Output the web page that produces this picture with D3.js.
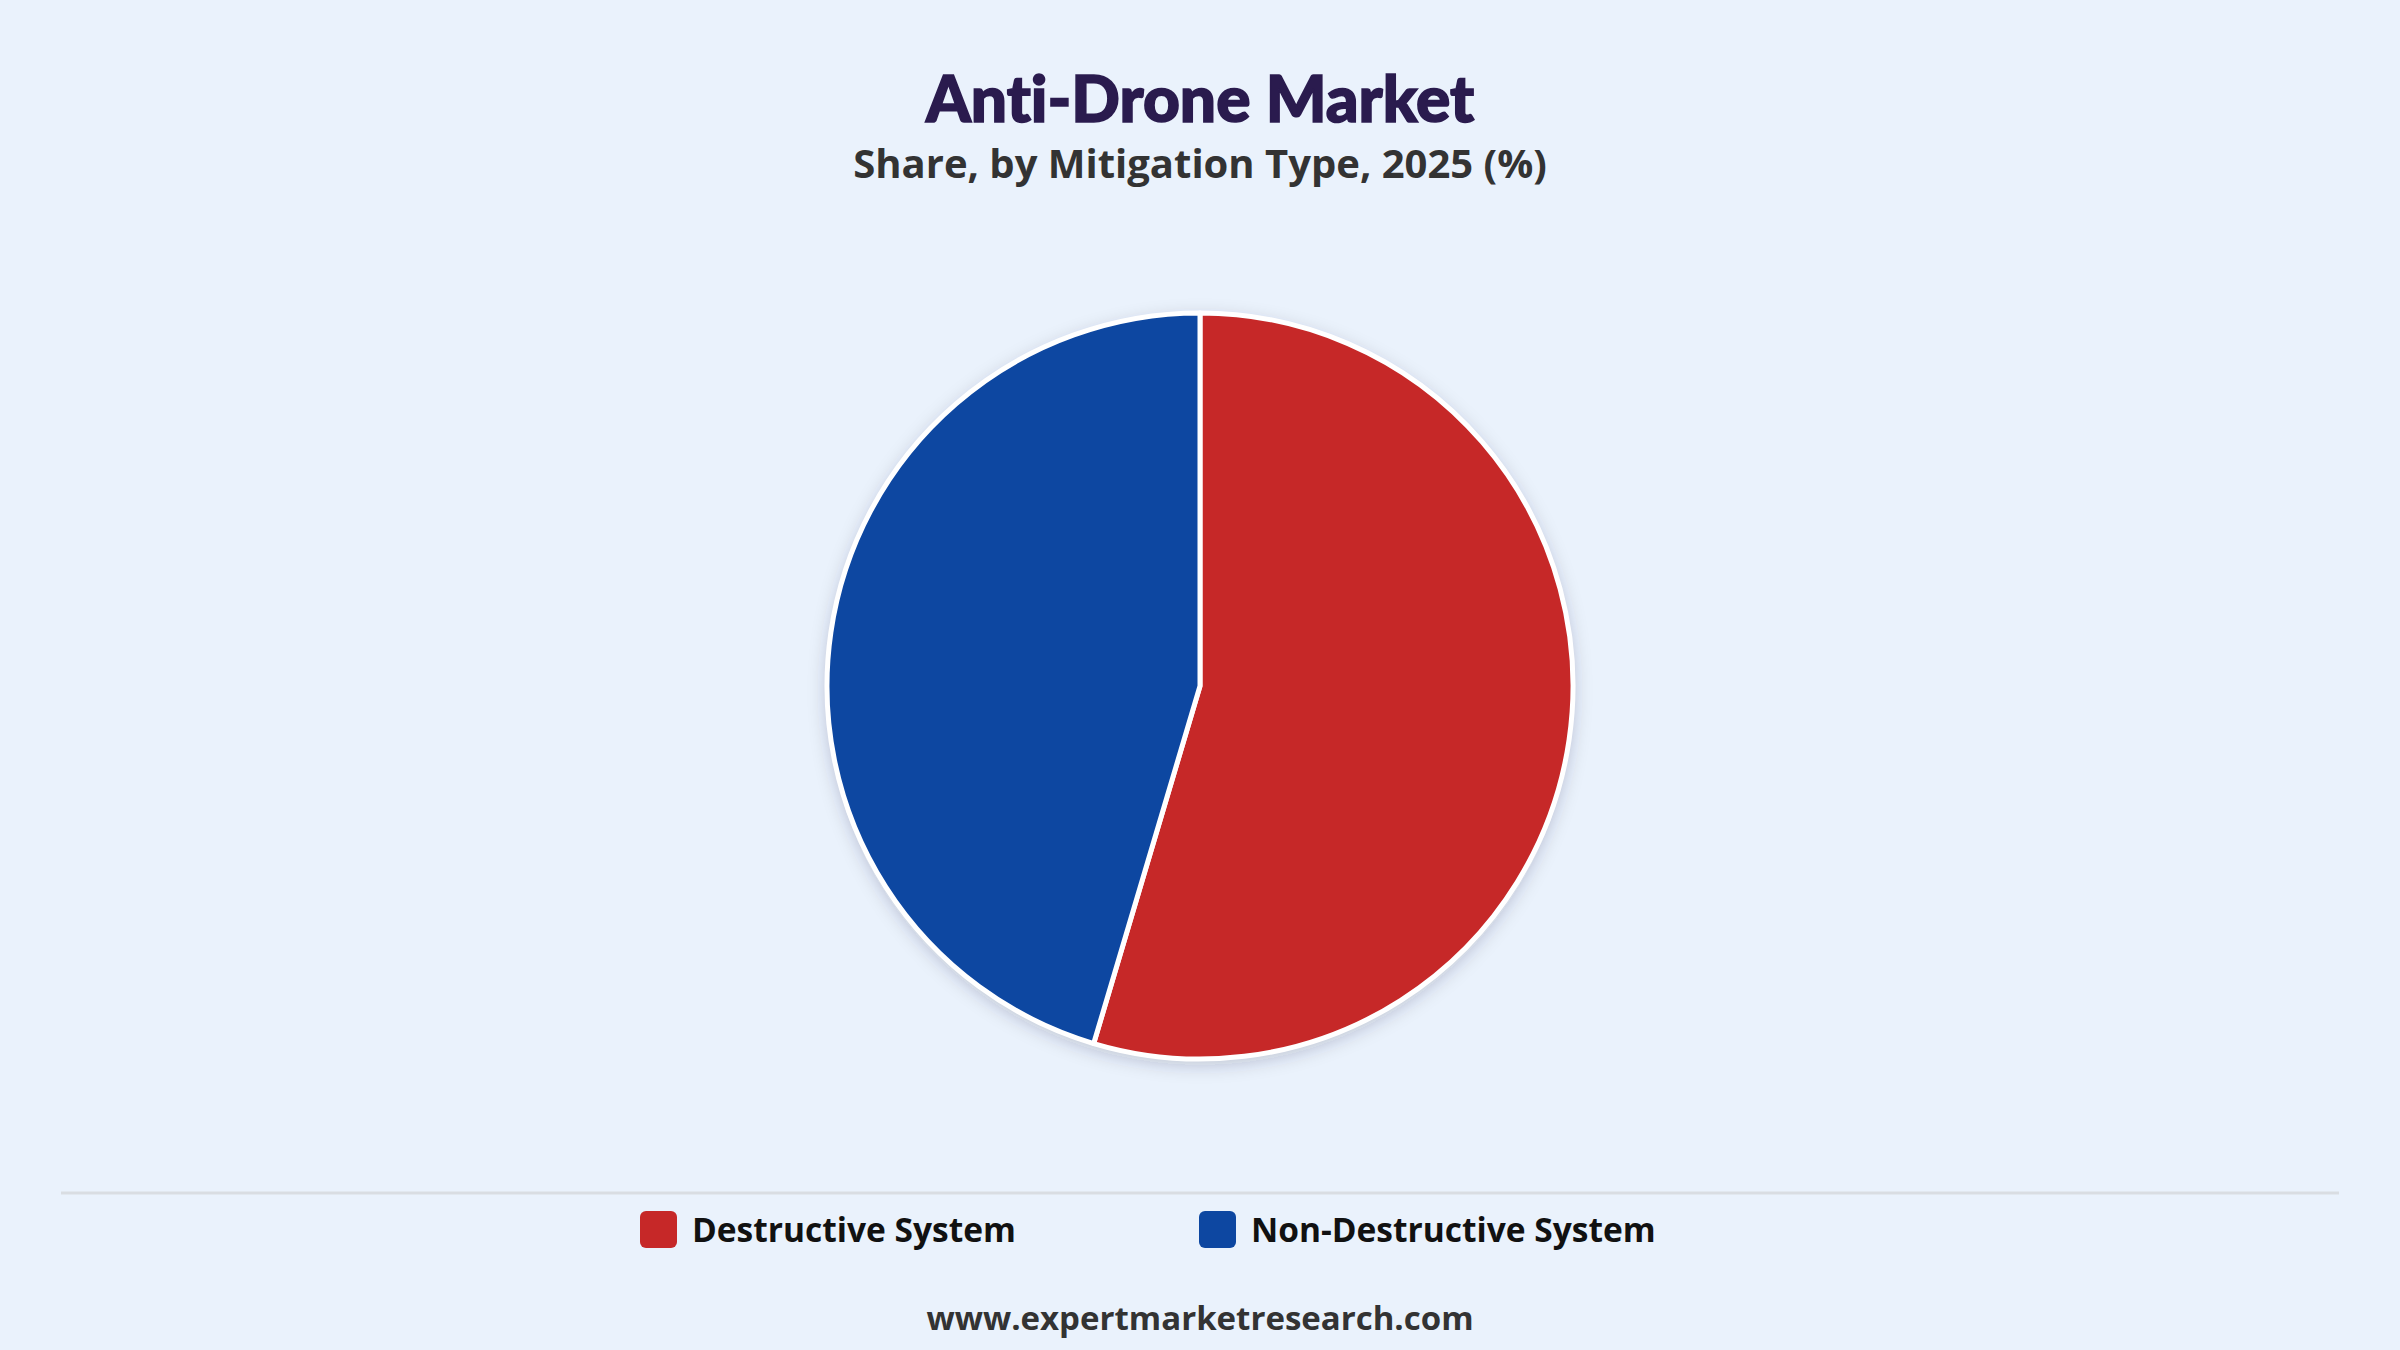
<!DOCTYPE html>
<html>
<head>
<meta charset="utf-8">
<script src="https://cdn.jsdelivr.net/npm/d3@7"></script>
<style>
  html, body { margin: 0; padding: 0; background: #EAF2FC; }
  svg { display: block; }
  text { font-variant-ligatures: none; font-feature-settings: "liga" 0, "clig" 0, "dlig" 0; }
</style>
</head>
<body>
<div id="chart"></div>
<script>
// Chart data.
var categories = ["Destructive System", "Non-Destructive System"];
var shares = [54.6, 45.4];
var colours = ["#C62828", "#0D47A1"];

var width = 2400;
var height = 1350;

var svg = d3.select("#chart")
    .append("svg")
    .attr("width", width)
    .attr("height", height);

svg.append("rect")
    .attr("width", width)
    .attr("height", height)
    .attr("fill", "#EAF2FC");

// Soft shadow under the pie.
var defs = svg.append("defs");
var shadow = defs.append("filter")
    .attr("id", "shadow")
    .attr("x", "-20%").attr("y", "-20%")
    .attr("width", "140%").attr("height", "140%");
shadow.append("feDropShadow")
    .attr("dx", 0)
    .attr("dy", 5)
    .attr("stdDeviation", 9)
    .attr("flood-color", "#1a2a40")
    .attr("flood-opacity", 0.22);

// Titles.
svg.append("text")
    .attr("x", width / 2)
    .attr("y", 122)
    .attr("text-anchor", "middle")
    .style("font-family", "Lato, 'Open Sans', sans-serif")
    .style("font-weight", 900)
    .style("font-size", "64px")
    .attr("fill", "#2A1B4E")
    .attr("stroke", "#2A1B4E")
    .attr("stroke-width", 1.6)
    .text("Anti-Drone Market");

svg.append("text")
    .attr("x", width / 2)
    .attr("y", 178)
    .attr("text-anchor", "middle")
    .style("font-family", "'Open Sans', sans-serif")
    .style("font-weight", 700)
    .style("font-size", "40px")
    .attr("fill", "#333333")
    .text("Share, by Mitigation Type, 2025 (%)");

// Pie.
var radius = 373;
var pie = d3.pie().sort(null).value(function(d) { return d; });
var arc = d3.arc().innerRadius(0).outerRadius(radius);

var g = svg.append("g")
    .attr("transform", "translate(" + (width / 2) + ",686)");

g.append("circle")
    .attr("r", radius + 1)
    .attr("fill", "#fff")
    .attr("filter", "url(#shadow)");

g.selectAll("path")
    .data(pie(shares))
    .enter()
    .append("path")
    .attr("d", arc)
    .attr("fill", function(d, i) { return colours[i]; })
    .attr("stroke", "#ffffff")
    .attr("stroke-width", 5)
    .attr("stroke-linejoin", "round");

// Divider line above the legend.
svg.append("line")
    .attr("x1", 61)
    .attr("x2", 2339)
    .attr("y1", 1193)
    .attr("y2", 1193)
    .attr("stroke", "#D9DDE2")
    .attr("stroke-width", 3);

// Legend.
var legendX = [640, 1199];
var legend = svg.selectAll(".legend")
    .data(categories)
    .enter()
    .append("g")
    .attr("class", "legend")
    .attr("transform", function(d, i) { return "translate(" + legendX[i] + ",1211)"; });

legend.append("rect")
    .attr("width", 37)
    .attr("height", 37)
    .attr("rx", 6)
    .attr("fill", function(d, i) { return colours[i]; });

legend.append("text")
    .attr("x", 52)
    .attr("y", 31)
    .style("font-family", "'Open Sans', sans-serif")
    .style("font-weight", 700)
    .style("font-size", "33.5px")
    .attr("fill", "#111111")
    .text(function(d) { return d; });

// Footer.
svg.append("text")
    .attr("x", width / 2)
    .attr("y", 1330)
    .attr("text-anchor", "middle")
    .style("font-family", "'Open Sans', sans-serif")
    .style("font-weight", 700)
    .style("font-size", "33px")
    .attr("fill", "#333333")
    .text("www.expertmarketresearch.com");
</script>
</body>
</html>
